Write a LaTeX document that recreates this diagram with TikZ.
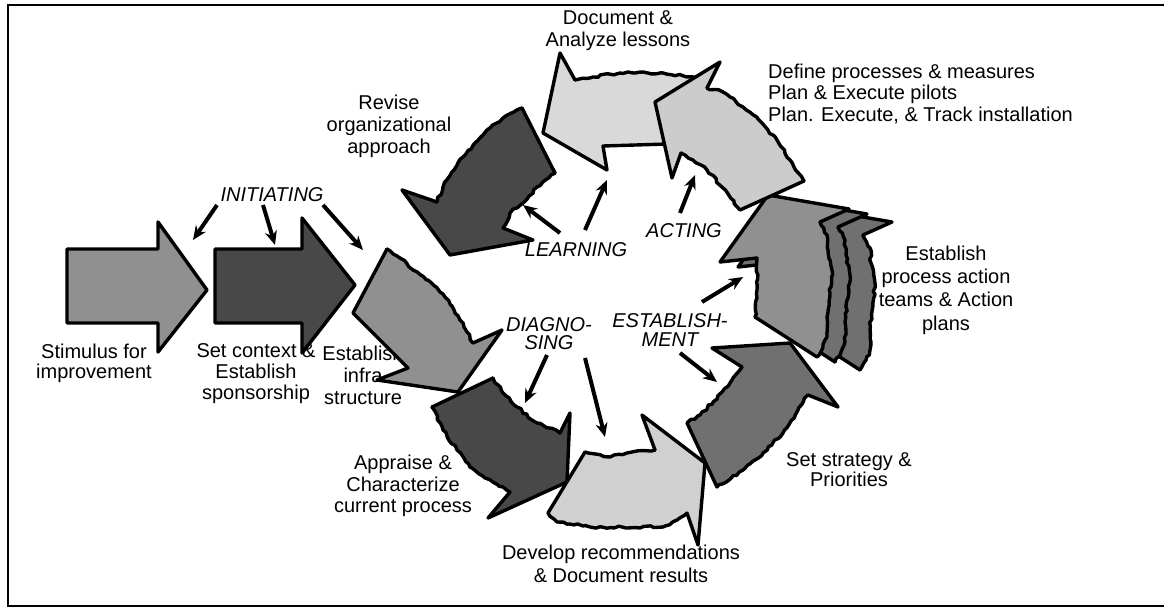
\documentclass[tikz,border=0pt]{standalone}
\usepackage{fontspec}
\setmainfont{Liberation Sans}
\usetikzlibrary{arrows.meta,decorations.pathmorphing}
\definecolor{gMid}{gray}{0.565}
\definecolor{gDark}{gray}{0.282}
\definecolor{gSlate}{gray}{0.44}
\definecolor{gPale}{gray}{0.816}
\definecolor{gPaleB}{gray}{0.80}
\definecolor{gPaleC}{gray}{0.85}
\newcommand\patarrow[1]{%
  \fill[#1] (768,195) -- (849,209) -- (820,222) -- (827,235) -- (828,250) -- (832,270) -- (830,293) -- (827,317) -- (827,337) -- (823,347) -- (817,357) -- (755,317) -- (757,290) -- (757,258) -- (720,262) -- cycle;
  \draw[edge] (757,258) -- (720,262) -- (768,195) -- (849,209) -- (820,222);
  \draw[edge] (817,357) -- (755,317);
  \draw[edge,jag] (820,222) -- (827,235) -- (828,250) -- (832,270) -- (830,293) -- (827,317) -- (827,337) -- (823,347) -- (817,357);
  \draw[edge,jag] (755,317) -- (757,290) -- (757,258);
}
\begin{document}
\begin{tikzpicture}[x=1pt,y=-1pt,
  edge/.style={draw=black,line width=3.4pt,line join=round,line cap=round},
  jag/.style={decorate,decoration={random steps,segment length=4pt,amplitude=1.2pt}},
  lab/.style={font=\fontsize{20}{22}\selectfont,align=center,inner sep=0pt},
  phase/.style={font=\fontsize{20}{20}\selectfont\itshape,align=center,inner sep=0pt},
  ptr/.style={line width=4pt,-{Stealth[length=14pt,width=12pt]}},
]
\pgfmathsetseed{7}
\useasboundingbox (0,0) rectangle (1164,608);
\draw[line width=2pt] (1172,5) -- (8,5) -- (8,606) -- (1172,606);

% ---- plain labels (under the arrows) ----
\node[lab,font=\fontsize{20}{20}\selectfont] (stim) at (94,363) {Stimulus for\\improvement};
\node[lab,font=\fontsize{20}{21}\selectfont] (setc) at (256,374) {Set context \&\\Establish\\sponsorship};
\node[lab,font=\fontsize{20}{22}\selectfont] (infra) at (363,375) {Establish\\infra\\structure};
\node[lab,font=\fontsize{20}{22}\selectfont] (revise) at (389,126) {Revise\\organizational\\approach};
\node[lab,font=\fontsize{20}{22}\selectfont] (docan) at (618,31) {Document \&\\Analyze lessons};
\node[lab,font=\fontsize{20}{21.5}\selectfont,align=left,anchor=west] (define) at (768,94) {Define processes \& measures\\Plan \& Execute pilots\\Plan. Execute, \& Track installation};
\node[lab,font=\fontsize{20}{23.3}\selectfont] (estpat) at (946,290) {Establish\\process action\\teams \& Action\\plans};
\node[lab,font=\fontsize{20}{20}\selectfont] (setstr) at (849,470) {Set strategy \&\\Priorities};
\node[lab,font=\fontsize{20}{21.5}\selectfont] (apprs) at (403,486) {Appraise \&\\Characterize\\current process};
\node[lab,font=\fontsize{20}{23}\selectfont] (devel) at (621,564) {Develop recommendations\\\& Document results};

% ---- straight arrows ----
\filldraw[edge,fill=gMid] (67,249) -- (158,249) -- (158,222) -- (207,290) -- (158,352) -- (158,323) -- (67,323) -- cycle;
\filldraw[edge,fill=gDark] (215,249) -- (302,249) -- (302,218) -- (355,285) -- (302,353) -- (302,323) -- (215,323) -- cycle;

% ---- Establish infrastructure ----
\fill[gMid] (387,249) -- (400,258) -- (413,270) -- (428,280) -- (440,292) -- (452,306) -- (460,320) -- (467,332) -- (473,343) -- (502,330) -- (458,392) -- (377,380) -- (408,368) -- (353,313) -- cycle;
\draw[edge] (473,343) -- (502,330) -- (458,392) -- (377,380) -- (408,368) -- (353,313) -- (387,249);
\draw[edge,jag] (387,249) -- (400,258) -- (413,270) -- (428,280) -- (440,292) -- (452,306) -- (460,320) -- (467,332) -- (473,343);

% ---- Appraise ----
\fill[gDark] (432,407) -- (493,378) -- (503,393) -- (517,407) -- (537,423) -- (560,433) -- (570,413) -- (567,482) -- (488,518) -- (510,492) -- (485,478) -- (470,467) -- (457,450) -- (443,430) -- cycle;
\draw[edge] (560,433) -- (570,413) -- (567,482) -- (488,518) -- (510,492);
\draw[edge] (432,407) -- (493,378);
\draw[edge,jag] (493,378) -- (503,393) -- (517,407) -- (537,423) -- (560,433);
\draw[edge,jag] (510,492) -- (485,478) -- (470,467) -- (457,450) -- (443,430) -- (432,407);

% ---- Develop recommendations ----
\fill[gPale] (585,452) -- (610,457) -- (627,453) -- (655,450) -- (642,415) -- (705,463) -- (698,545) -- (687,513) -- (677,520) -- (663,527) -- (590,527) -- (557,522) -- (548,513) -- cycle;
\draw[edge] (655,450) -- (642,415) -- (705,463) -- (698,545) -- (687,513);
\draw[edge] (548,513) -- (585,452);
\draw[edge,jag] (585,452) -- (610,457) -- (627,453) -- (655,450);
\draw[edge,jag] (687,513) -- (677,520) -- (663,527) -- (590,527) -- (557,522) -- (548,513);

% ---- Set strategy ----
\fill[gSlate] (790,343) -- (838,407) -- (808,395) -- (798,410) -- (783,433) -- (763,453) -- (743,470) -- (717,487) -- (687,423) -- (700,415) -- (713,402) -- (722,392) -- (732,380) -- (742,367) -- (712,348) -- cycle;
\draw[edge] (742,367) -- (712,348) -- (790,343) -- (838,407) -- (808,395);
\draw[edge] (717,487) -- (687,423);
\draw[edge,jag] (808,395) -- (798,410) -- (783,433) -- (763,453) -- (743,470) -- (717,487);
\draw[edge,jag] (687,423) -- (700,415) -- (713,402) -- (722,392) -- (732,380) -- (742,367);

% ---- Establish process action teams (stacked) ----
\begin{scope}[shift={(43,13)}]\patarrow{gSlate}\end{scope}
\begin{scope}[shift={(18,5)}]\patarrow{gSlate}\end{scope}
\patarrow{gMid}

% ---- Document & Analyze ----
\fill[gPaleC] (543,133) -- (560,53) -- (575,80) -- (593,77) -- (620,73) -- (663,73) -- (700,78) -- (700,143) -- (603,146) -- (607,170) -- cycle;
\draw[edge] (700,78) -- (700,143) -- (603,146) -- (607,170) -- (543,133) -- (560,53) -- (575,80);
\draw[edge,jag] (575,80) -- (593,77) -- (620,73) -- (663,73) -- (700,78);

% ---- Define processes ----
\fill[gPaleB] (655,102) -- (720,62) -- (707,88) -- (723,92) -- (743,107) -- (762,123) -- (777,140) -- (790,160) -- (804,181) -- (740,210) -- (723,188) -- (707,170) -- (693,160) -- (681,153) -- (672,178) -- cycle;
\draw[edge] (681,153) -- (672,178) -- (655,102) -- (720,62) -- (707,88);
\draw[edge] (804,181) -- (740,210);
\draw[edge,jag] (707,88) -- (723,92) -- (743,107) -- (762,123) -- (777,140) -- (790,160) -- (804,181);
\draw[edge,jag] (740,210) -- (723,188) -- (707,170) -- (693,160) -- (681,153);

% ---- Revise ----
\fill[gDark] (522,108) -- (555,173) -- (537,187) -- (523,203) -- (510,213) -- (503,228) -- (533,240) -- (450,255) -- (402,190) -- (437,202) -- (443,187) -- (452,172) -- (463,157) -- (475,143) -- (487,130) -- (503,118) -- cycle;
\draw[edge] (503,228) -- (533,240) -- (450,255) -- (402,190) -- (437,202);
\draw[edge] (522,108) -- (555,173);
\draw[edge,jag] (555,173) -- (537,187) -- (523,203) -- (510,213) -- (503,228);
\draw[edge,jag] (437,202) -- (443,187) -- (452,172) -- (463,157) -- (475,143) -- (487,130) -- (503,118) -- (522,108);

% ---- phase labels ----
\node[phase] (init) at (272,195) {INITIATING};
\node[phase] (learn) at (576,250) {LEARNING};
\node[phase] (act) at (684,231) {ACTING};
\node[phase,font=\fontsize{20}{18}\selectfont\itshape] (diag) at (549,334) {DIAGNO-\\SING};
\node[phase,font=\fontsize{20}{19}\selectfont\itshape] (estab) at (670,330) {ESTABLISH-\\MENT};

% ---- pointer ends ----
\coordinate (i1s) at (217,205); \coordinate (i1e) at (193,240);
\coordinate (i2s) at (263,205); \coordinate (i2e) at (275,245);
\coordinate (i3s) at (323,205); \coordinate (i3e) at (363,250);
\coordinate (l1s) at (560,233); \coordinate (l1e) at (523,205);
\coordinate (l2s) at (585,230); \coordinate (l2e) at (607,180);
\coordinate (a1s) at (680,213); \coordinate (a1e) at (695,175);
\coordinate (d1s) at (547,355); \coordinate (d1e) at (525,403);
\coordinate (d2s) at (585,358); \coordinate (d2e) at (605,437);
\coordinate (e1s) at (680,353); \coordinate (e1e) at (717,382);
\coordinate (e2s) at (702,302); \coordinate (e2e) at (743,277);

\draw[ptr] (i1s) -- (i1e);
\draw[ptr] (i2s) -- (i2e);
\draw[ptr] (i3s) -- (i3e);
\draw[ptr] (l1s) -- (l1e);
\draw[ptr] (l2s) -- (l2e);
\draw[ptr] (a1s) -- (a1e);
\draw[ptr] (d1s) -- (d1e);
\draw[ptr] (d2s) -- (d2e);
\draw[ptr] (e1s) -- (e1e);
\draw[ptr] (e2s) -- (e2e);
\end{tikzpicture}
\end{document}
